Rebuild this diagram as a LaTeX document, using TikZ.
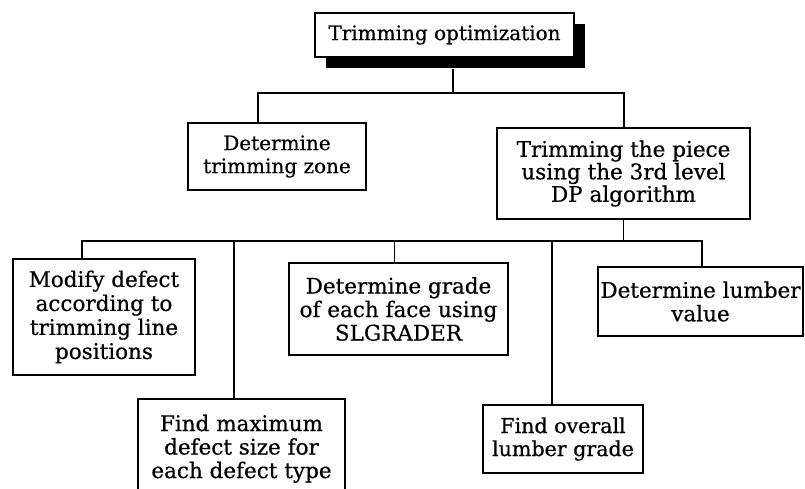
\documentclass[tikz,border=0pt]{standalone}
\usepackage{fontspec}
\setmainfont[FakeBold=0.6]{DejaVu Serif}
\usetikzlibrary{shadows}
\tikzset{
  box/.style={draw=black, line width=1.5pt, fill=white, inner sep=0pt, align=center,
    font=\fontsize{21.5}{23.5}\selectfont},
  link/.style={draw=black, line width=1.5pt},
}
\begin{document}
\begin{tikzpicture}[x=1pt,y=-1pt]
\clip (0,0) rectangle (805,489);
\fill[white] (0,0) rectangle (805,489);
% level 0
\node[box, minimum width=259pt, minimum height=44pt,
  drop shadow={fill=black, opacity=1, shadow xshift=11pt, shadow yshift=-11pt},
  font=\fontsize{20}{22}\selectfont] (top) at (444.5,35) {Trimming optimization};
% level 1
\node[box, minimum width=178pt, minimum height=67pt, font=\fontsize{20}{23}\selectfont] (tz) at (277,156.5) {Determine\\trimming zone};
\node[box, minimum width=253pt, minimum height=91pt, font=\fontsize{21.5}{22.5}\selectfont] (tp) at (623.5,173.5) {Trimming the piece\\using the 3rd level\\DP algorithm};
% level 2
\node[box, minimum width=182pt, minimum height=116pt, font=\fontsize{21.5}{24}\selectfont] (c1) at (104,317) {Modify defect\\according to\\trimming line\\positions};
\node[box, minimum width=207pt, minimum height=100pt, anchor=north] (c2) at (241.5,398) {\vphantom{X}Find maximum\\defect size for\\each defect type};
\node[box, minimum width=219pt, minimum height=92pt] (c3) at (398.5,309) {Determine grade\\of each face using\\SLGRADER};
\node[box, minimum width=160pt, minimum height=68pt, font=\fontsize{20.6}{23}\selectfont] (c4) at (563,439) {Find overall\\lumber grade};
\node[box, minimum width=205pt, minimum height=69pt] (c5) at (700.5,301.5) {Determine lumber\\value};
% connectors level 0 -> 1
\coordinate (j1) at (453,93);
\coordinate (b1L) at (258,93);
\coordinate (b1R) at (624,93);
\draw[link] (top.south -| j1) ++(0,11) -- (j1);
\draw[link] (tz.north -| b1L) -- (b1L) -- (b1R) -- (tp.north -| b1R);
% connectors level 1 -> 2
\coordinate (j2) at (623.5,241);
\coordinate (b2a) at (82,241);
\coordinate (b2b) at (234,241);
\coordinate (b2c) at (394.5,241);
\coordinate (b2d) at (552,241);
\coordinate (b2e) at (702,241);
\draw[link] (tp.south) -- (j2);
\draw[link] (c1.north -| b2a) -- (b2a) -- (b2e) -- (c5.north -| b2e);
\draw[link] (b2b) -- (c2.north -| b2b);
\draw[link] (b2c) -- (c3.north -| b2c);
\draw[link] (b2d) -- (c4.north -| b2d);
\end{tikzpicture}
\end{document}
